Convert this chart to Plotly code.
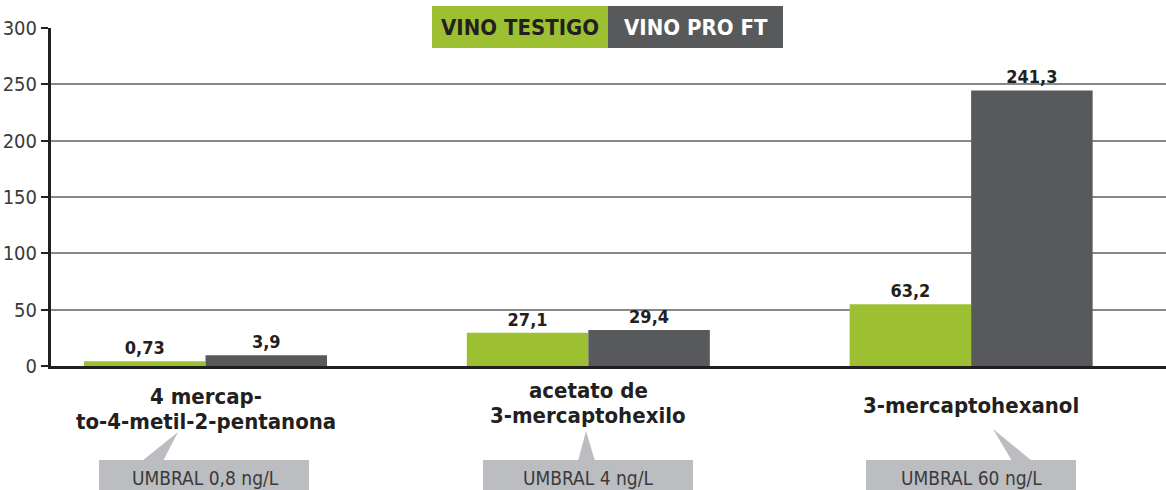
import plotly.graph_objects as go

# ---- data ----
categories = ["4 mercap-<br>to-4-metil-2-pentanona", "acetato de<br>3-mercaptohexilo", "3-mercaptohexanol"]
series_names = ["VINO TESTIGO", "VINO PRO FT"]
# bar heights as drawn in the picture
testigo_heights = [4.3, 29.5, 54.7]
proft_heights = [9.6, 32.0, 244.6]
# printed value labels
testigo_labels = ["0,73", "27,1", "63,2"]
proft_labels = ["3,9", "29,4", "241,3"]
umbral_labels = ["UMBRAL 0,8 ng/L", "UMBRAL 4 ng/L", "UMBRAL 60 ng/L"]
y_ticks = [0, 50, 100, 150, 200, 250, 300]

GREEN = "#9dc033"
GREY = "#58595b"
LIGHT = "#bcbdc0"
DARK = "#231f20"
FONT = "Liberation Sans Narrow, DejaVu Sans Condensed, Roboto, sans-serif"

W, H = 1166, 490
ML, MR, MT, MB = 51, 0, 28, 124
X0, X1 = -0.4036, 2.509
plot_w = W - ML - MR
plot_h = H - MT - MB
def px2x(px):
    return X0 + (px - ML) / plot_w * (X1 - X0)
def py2paper(py):
    return (H - MB - py) / plot_h
def px2paper(px):
    return (px - ML) / plot_w

xs = list(range(len(categories)))
bw = 0.3174

fig = go.Figure()
fig.add_trace(go.Bar(
    x=xs, y=testigo_heights, name=series_names[0], marker_color=GREEN,
    marker_line_width=0, width=bw, offset=-bw,
    text=testigo_labels, textposition="outside",
    textfont=dict(family=FONT, size=18, color=DARK, weight="bold"),
    cliponaxis=False,
))
fig.add_trace(go.Bar(
    x=xs, y=proft_heights, name=series_names[1], marker_color=GREY,
    marker_line_width=0, width=bw, offset=0,
    text=proft_labels, textposition="outside",
    textfont=dict(family=FONT, size=18, color=DARK, weight="bold"),
    cliponaxis=False,
))

shapes = []
annotations = []

label_centers = [409, 403, 405]
line_h = 25
for i, cat in enumerate(categories):
    lines = cat.split("<br>")
    n = len(lines)
    for j, ln in enumerate(lines):
        cy = label_centers[i] + (j - (n - 1) / 2) * line_h
        annotations.append(dict(
            x=i, y=py2paper(cy), xref="x", yref="paper", text=ln, showarrow=False,
            xanchor="center", yanchor="middle",
            font=dict(family=FONT, size=22, color=DARK, weight="bold"),
        ))

boxes = [(99, 309), (483, 693), (866, 1076)]
tris = [((142, 163), (178, 432)), ((578, 595), (586, 431)), ((1012, 1032), (993, 429))]
for i, ((bx0, bx1), ((tb0, tb1), (ax, ay))) in enumerate(zip(boxes, tris)):
    shapes.append(dict(type="rect", xref="x", yref="paper",
                       x0=px2x(bx0), x1=px2x(bx1), y0=py2paper(495), y1=py2paper(460),
                       fillcolor=LIGHT, line_width=0, layer="above"))
    path = "M {} {} L {} {} L {} {} Z".format(
        px2x(tb0), py2paper(461), px2x(ax), py2paper(ay), px2x(tb1), py2paper(461))
    shapes.append(dict(type="path", xref="x", yref="paper", path=path,
                       fillcolor=LIGHT, line_width=0, layer="above"))
    annotations.append(dict(
        x=i, y=py2paper(478), xref="x", yref="paper", text=umbral_labels[i],
        showarrow=False, xanchor="center", yanchor="middle",
        font=dict(family=FONT, size=19, color="#3a3a3c"),
    ))

leg = [(432, 608, GREEN, DARK), (608, 783, GREY, "#ffffff")]
for (lx0, lx1, fc, tc), name in zip(leg, series_names):
    shapes.append(dict(type="rect", xref="paper", yref="paper",
                       x0=px2paper(lx0), x1=px2paper(lx1), y0=py2paper(48), y1=py2paper(6),
                       fillcolor=fc, line_width=0, layer="above"))
    annotations.append(dict(
        x=px2paper((lx0 + lx1) / 2), y=py2paper(27), xref="paper", yref="paper",
        text=name, showarrow=False, xanchor="center", yanchor="middle",
        font=dict(family=FONT, size=22, color=tc, weight="bold"),
    ))

fig.update_layout(
    width=W, height=H,
    margin=dict(l=ML, r=MR, t=MT, b=MB, pad=0),
    paper_bgcolor="white", plot_bgcolor="white",
    barmode="overlay", showlegend=False,
    shapes=shapes, annotations=annotations,
    font=dict(family=FONT, color=DARK),
)
fig.update_xaxes(
    range=[X0, X1], showgrid=False, zeroline=False,
    tickvals=xs, ticktext=["" for _ in xs], ticks="",
    showline=True, linecolor=DARK, linewidth=3,
)
fig.update_yaxes(
    range=[0, 300], tickvals=y_ticks, ticktext=[str(v) for v in y_ticks],
    showgrid=True, gridcolor="#888888", gridwidth=1.5, zeroline=False,
    showline=True, linecolor=DARK, linewidth=3,
    ticks="outside", ticklen=7, tickwidth=2, tickcolor=DARK,
    tickfont=dict(family=FONT, size=20, color="#3a3a3c"),
)

fig.write_html("out.html")
